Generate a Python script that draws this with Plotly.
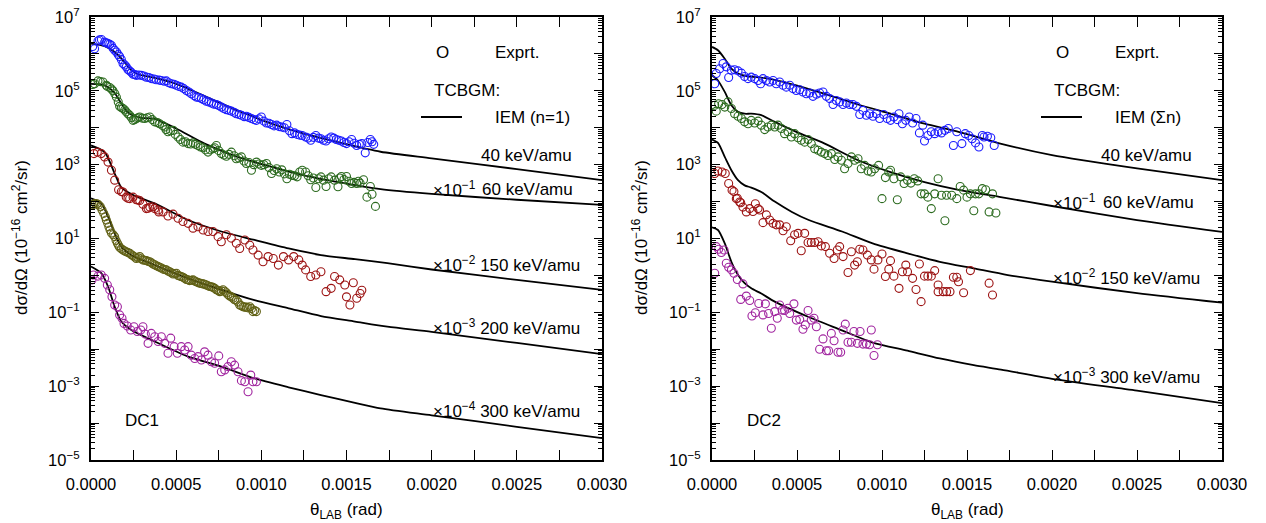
import numpy as np
import plotly.graph_objects as go

W, H = 1266, 523
FONT = "Liberation Sans, Arial, sans-serif"

# ---------------- DATA (theta in units of 1e-4 rad, values as log10) ----------------
# DC1 experimental
dc1_exp40_theta = [0.21,0.41,0.61,0.80,1.00,1.20,1.39,1.68,1.88,2.07,2.27,2.47,2.66,2.95,3.25,3.54,3.83,4.13,4.42,4.72,5.01,5.30,5.60,5.89,6.18,6.48,6.77,7.07,7.36,7.65,7.95,8.24,8.53,8.83,9.12,9.42,9.71,10.0,10.3,10.6,10.9,11.2,11.5,11.8,12.1,12.4,12.6,12.9,13.2,13.5,13.8,14.1,14.4,14.7,15.0,15.3,15.6,15.9,16.1,16.4,16.6,
                   0.1,0.5,0.9,1.1,1.3,1.5,1.6,1.78,1.98,2.17,2.37,2.57,2.8,3.1,3.4,3.7,4.0,4.3,4.57,4.87,5.15,5.45,5.75,6.05,6.33,6.62,6.92,7.2,7.5,7.8,8.1,8.4,8.7,9.0,9.27,9.57,9.86,10.15,10.45,10.75,11.05,11.35,11.65,11.95,12.25,12.75,13.05,13.35,13.65,13.95,14.25,14.55,14.85,15.15,15.45,15.75,16.25,16.5]
dc1_exp40_log = [6.14,6.35,6.39,6.32,6.28,6.23,6.10,5.93,5.74,5.65,5.54,5.45,5.42,5.42,5.37,5.33,5.30,5.28,5.27,5.19,5.15,5.10,5.01,4.92,4.83,4.79,4.72,4.67,4.63,4.56,4.49,4.45,4.38,4.34,4.31,4.25,4.20,4.29,4.13,4.09,4.07,4.02,4.09,3.84,3.82,3.79,3.75,3.66,3.79,3.70,3.64,3.75,3.68,3.64,3.57,3.68,3.52,3.57,3.32,3.68,3.55,
                 6.20,6.38,6.30,6.26,6.15,6.05,5.98,5.85,5.70,5.58,5.50,5.44,5.43,5.40,5.36,5.32,5.29,5.26,5.22,5.18,5.12,5.06,4.97,4.87,4.82,4.76,4.70,4.64,4.60,4.52,4.47,4.42,4.36,4.30,4.28,4.22,4.24,4.18,4.12,4.05,4.03,4.00,3.92,3.86,3.80,3.72,3.74,3.72,3.66,3.70,3.72,3.66,3.60,3.62,3.58,3.55,3.60,3.62]

dc1_exp60_theta = [0.21,0.41,0.70,0.90,1.10,1.29,1.49,1.68,1.88,2.07,2.27,2.47,2.66,2.86,3.15,3.45,3.74,4.03,4.33,4.52,4.82,5.11,5.40,5.70,5.99,6.28,6.58,6.87,7.16,7.36,7.65,7.95,8.24,8.53,8.83,9.12,9.42,9.71,10.0,10.3,10.6,10.9,11.2,11.5,11.8,12.1,12.4,12.6,12.9,13.2,13.5,13.8,14.1,14.5,14.7,15.0,15.3,15.6,15.8,16.0,16.2,16.4,16.5,16.7,
                   0.1,0.55,0.95,1.2,1.4,1.6,1.78,1.98,2.17,2.37,2.57,2.76,3.0,3.3,3.6,3.9,4.2,4.4,4.67,4.95,5.25,5.55,5.85,6.13,6.43,6.72,7.0,7.26,7.5,7.8,8.1,8.4,8.68,8.98,9.27,9.56,9.86,10.15,10.45,10.75,11.05,11.35,11.65,11.95,12.25,12.75,13.05,13.35,13.65,13.95,14.3,14.6,14.85,15.15,15.45,15.7]
dc1_exp60_log = [5.19,5.27,5.24,5.15,5.09,5.00,4.83,4.58,4.52,4.43,4.34,4.20,4.25,4.29,4.25,4.29,4.16,4.11,4.02,3.89,3.93,3.75,3.61,3.57,3.59,3.52,3.46,3.34,3.43,3.52,3.30,3.23,3.34,3.16,3.21,3.03,2.85,3.07,2.98,3.03,2.76,2.89,2.86,2.62,2.71,2.67,2.85,2.80,2.59,2.38,2.67,2.41,2.67,2.40,2.68,2.68,2.49,2.49,2.50,2.59,2.12,2.41,2.20,1.87,
                 5.17,5.25,5.12,5.05,4.92,4.70,4.55,4.48,4.38,4.28,4.22,4.27,4.26,4.27,4.22,4.14,4.06,3.95,3.92,3.82,3.68,3.62,3.56,3.55,3.48,3.40,3.40,3.46,3.38,3.26,3.28,3.24,3.18,3.10,3.06,3.00,3.02,3.00,2.92,2.84,2.80,2.75,2.74,2.70,2.80,2.70,2.64,2.62,2.58,2.62,2.58,2.64,2.60,2.55,2.52,2.55]

dc1_exp150_theta = [0.17,0.37,0.60,0.80,1.00,1.20,1.39,1.62,1.78,1.88,2.07,2.17,2.27,2.47,2.66,2.76,2.86,3.05,3.25,3.35,3.45,3.64,3.74,3.94,3.98,4.23,4.52,4.82,5.11,5.40,5.70,5.99,6.28,6.58,6.87,7.16,7.46,7.65,7.95,8.24,8.53,8.73,9.03,9.32,9.51,9.81,10.1,10.4,10.7,11.0,11.3,11.6,11.9,12.2,12.4,12.6,12.9,13.2,13.5,13.8,14.1,14.3,14.6,14.9,15.0,15.2,15.4,15.6,15.8,15.9]
dc1_exp150_log = [3.30,3.34,3.30,3.21,3.07,2.85,2.58,2.32,2.27,2.26,2.12,2.09,2.08,2.12,2.05,2.04,2.03,1.93,1.81,1.82,1.85,1.86,1.81,1.77,1.72,1.72,1.61,1.66,1.55,1.46,1.41,1.28,1.32,1.23,1.19,1.19,1.05,0.91,1.10,1.01,0.87,0.73,0.96,0.82,0.69,0.55,0.37,0.51,0.46,0.28,0.51,0.42,0.51,0.42,0.28,0.15,-0.03,0.01,0.10,-0.44,-0.35,-0.03,-0.12,-0.26,-0.58,-0.80,-0.20,-0.62,-0.49,-0.40]

dc1_exp200_theta = [0.06,0.25,0.45,0.65,0.84,0.98,1.12,1.39,1.55,1.68,1.88,2.07,2.27,2.47,2.66,2.86,3.05,3.25,3.45,3.64,3.84,4.03,4.23,4.42,4.62,4.82,5.01,5.21,5.40,5.60,5.79,5.99,6.18,6.38,6.58,6.77,6.97,7.16,7.36,7.56,7.75,7.95,8.14,8.34,8.53,8.73,8.93,9.12,9.32,9.51,9.71,
                    0.15,0.35,0.55,0.75,0.90,1.05,1.20,1.30,1.47,1.62,1.78,1.98,2.17,2.37,2.57,2.76,2.95,3.15,3.35,3.55,3.74,3.94,4.13,4.33,4.52,4.72,4.92,5.11,5.30,5.50,5.70,5.89,6.09,6.28,6.48,6.67,6.87,7.07,7.26,7.46,7.65,7.85,8.04,8.24,8.43,8.63,8.83,9.03,9.22,9.42,9.61]
dc1_exp200_log = [1.91,1.95,1.91,1.77,1.59,1.41,1.23,1.05,0.87,0.76,0.69,0.64,0.60,0.53,0.46,0.51,0.42,0.40,0.37,0.31,0.26,0.22,0.17,0.15,0.10,0.04,0.06,-0.02,-0.05,-0.11,-0.14,-0.12,-0.17,-0.21,-0.23,-0.26,-0.30,-0.32,-0.39,-0.44,-0.39,-0.47,-0.56,-0.62,-0.67,-0.80,-0.85,-0.86,-0.85,-0.98,-0.98,
                  1.93,1.94,1.86,1.68,1.50,1.32,1.15,1.10,0.95,0.81,0.72,0.66,0.62,0.56,0.50,0.48,0.45,0.41,0.38,0.34,0.29,0.24,0.20,0.16,0.12,0.07,0.05,0.00,-0.03,-0.08,-0.12,-0.13,-0.15,-0.19,-0.22,-0.24,-0.28,-0.31,-0.35,-0.41,-0.42,-0.43,-0.52,-0.58,-0.66,-0.72,-0.82,-0.86,-0.88,-0.90,-0.95]

dc1_exp300_theta = [0.06,0.14,0.41,0.60,0.80,0.96,1.10,1.23,1.39,1.55,1.68,1.82,1.94,2.13,2.33,2.52,2.72,2.92,3.05,3.19,3.35,3.54,3.74,3.94,4.13,4.33,4.52,4.68,4.88,5.07,5.30,5.50,5.70,5.89,6.09,6.28,6.48,6.67,6.87,7.07,7.26,7.50,7.65,7.85,8.04,8.24,8.43,8.63,8.83,9.03,9.22,9.38,9.51,9.71]
dc1_exp300_log = [-0.12,0.01,-0.02,0.01,-0.08,-0.26,-0.39,-0.58,-0.80,-0.85,-1.07,-1.16,-1.30,-1.37,-1.48,-1.39,-1.52,-1.48,-1.39,-1.59,-1.84,-1.57,-1.66,-1.79,-1.66,-1.84,-2.11,-1.70,-1.93,-2.11,-1.93,-2.02,-1.93,-2.16,-2.25,-2.20,-2.29,-2.07,-2.16,-2.34,-2.38,-2.18,-2.61,-2.56,-2.47,-2.34,-2.43,-2.61,-2.85,-2.88,-3.15,-2.70,-2.88,-2.88]

# DC1 theory (TCBGM IEM n=1)
dc1_th40_theta = [0,0.8,1.39,1.97,2.37,2.76,3.74,5.0,6.67,8.6,10.6,12.5,14.5,17.0,20,25,30]
dc1_th40_log = [6.28,6.21,6.05,5.78,5.56,5.45,5.35,5.19,4.86,4.47,4.11,3.84,3.61,3.35,3.17,2.88,2.58]
dc1_th60_theta = [0,0.8,1.39,1.97,2.37,2.95,3.74,5.0,6.67,8.6,10.6,12.5,14.5,17.0,20,25,30]
dc1_th60_log = [5.19,5.15,4.94,4.52,4.35,4.27,4.24,3.98,3.57,3.21,2.94,2.71,2.53,2.34,2.21,2.05,1.91]
dc1_th150_theta = [0,0.8,1.39,1.76,2.15,2.76,3.74,5.69,7.65,9.6,11.6,13.5,15.5,17.4,20,25,30]
dc1_th150_log = [3.52,3.34,2.76,2.40,2.26,2.12,1.95,1.50,1.19,0.96,0.73,0.55,0.44,0.33,0.16,-0.12,-0.39]
dc1_th200_theta = [0,0.6,1.0,1.39,1.78,2.37,3.74,5.7,7.65,9.6,11.6,13.5,15.5,17.4,20,25,30]
dc1_th200_log = [2.09,1.95,1.59,1.14,0.78,0.55,0.28,-0.08,-0.39,-0.67,-0.89,-1.10,-1.25,-1.39,-1.53,-1.83,-2.13]
dc1_th300_theta = [0,0.6,1.0,1.39,1.78,2.37,3.74,5.7,7.65,9.6,11.6,13.5,15.5,17.0,20,25,30]
dc1_th300_log = [0.24,0.06,-0.30,-0.85,-1.25,-1.48,-1.79,-2.20,-2.47,-2.79,-3.03,-3.24,-3.45,-3.60,-3.79,-4.10,-4.41]

# DC2 experimental
dc2_exp40_theta = [0.16,0.25,0.45,0.65,0.84,0.98,1.14,1.33,1.53,1.73,1.92,2.12,2.31,2.51,2.71,2.86,3.0,3.2,3.39,3.59,3.78,3.98,4.18,4.37,4.57,4.76,4.96,5.16,5.35,5.55,5.75,5.94,6.14,6.33,6.53,6.73,6.92,7.12,7.31,7.51,7.71,7.90,8.1,8.29,8.49,8.69,8.88,9.08,9.27,9.47,9.67,9.86,10.1,10.3,10.5,10.7,10.9,11.0,11.2,11.4,11.6,11.8,12.0,12.2,12.4,12.5,12.7,12.9,13.1,13.3,13.5,13.7,13.9,14.2,14.4,14.7,14.9,15.1,15.3,15.5,15.7,15.9,16.0,16.2,16.4,16.6]
dc2_exp40_log = [5.19,5.47,5.60,5.74,5.65,5.36,5.56,5.57,5.54,5.48,5.39,5.33,5.37,5.33,5.28,5.19,5.33,5.28,5.24,5.28,5.19,5.24,5.15,5.10,5.15,5.06,5.01,5.03,4.97,4.92,4.94,4.85,4.91,4.94,4.97,4.85,4.79,4.63,4.74,4.70,4.63,4.67,4.63,4.63,4.58,4.36,4.47,4.34,4.38,4.31,4.38,4.25,4.36,4.25,4.20,4.29,4.22,4.38,4.11,4.20,4.29,4.13,4.25,3.86,4.07,3.64,3.79,3.89,3.84,3.89,3.86,3.93,3.98,3.52,3.89,3.57,3.84,3.79,3.70,3.59,3.48,3.79,3.75,3.77,3.73,3.52]

dc2_exp60_theta = [0.16,0.25,0.39,0.59,0.75,0.94,1.14,1.33,1.53,1.73,1.92,2.12,2.31,2.51,2.71,2.9,3.1,3.29,3.49,3.69,3.88,4.08,4.27,4.47,4.67,4.86,5.06,5.25,5.45,5.65,5.84,6.04,6.24,6.43,6.63,6.82,7.02,7.22,7.41,7.61,7.8,8.0,8.2,8.39,8.59,8.78,8.98,9.18,9.37,9.57,9.8,10.0,10.2,10.4,10.5,10.7,10.9,11.1,11.3,11.5,11.7,11.9,12.1,12.3,12.5,12.7,12.9,13.1,13.3,13.5,13.7,13.8,14.1,14.4,14.6,14.8,15.0,15.2,15.4,15.5,15.7,15.9,16.1,16.3,16.5,16.7]
dc2_exp60_log = [4.61,4.45,4.65,4.63,4.56,4.70,4.52,4.38,4.31,4.25,4.16,4.11,4.20,4.13,4.18,4.07,3.95,4.02,4.07,4.02,4.07,3.98,3.84,3.89,3.75,3.84,3.73,3.66,3.61,3.68,3.57,3.43,3.39,3.34,3.30,3.25,3.30,3.14,3.21,3.12,2.89,3.03,3.21,3.12,3.16,2.89,2.98,2.83,2.80,2.89,2.98,2.08,2.65,2.80,2.85,2.62,2.05,2.67,2.49,2.58,2.50,2.62,2.56,2.21,2.21,2.12,1.81,2.21,2.62,2.17,1.48,2.17,2.17,2.08,2.41,2.31,2.12,2.21,1.75,2.21,2.21,2.35,2.32,1.72,2.21,1.69]

dc2_exp150_theta = [0.16,0.35,0.59,0.78,0.98,1.18,1.29,1.43,1.49,1.63,1.69,1.82,2.02,2.22,2.41,2.55,2.71,2.8,3.0,3.2,3.39,3.59,3.78,3.98,4.18,4.37,4.63,4.86,5.06,5.25,5.45,5.65,5.84,6.04,6.24,6.43,6.67,6.92,7.18,7.37,7.51,7.71,8.0,8.2,8.39,8.55,8.69,8.88,9.14,9.37,9.53,9.76,10.0,10.2,10.4,10.5,10.7,11.0,11.2,11.4,11.5,11.8,12.0,12.2,12.3,12.5,12.7,12.9,13.1,13.3,13.3,13.6,13.8,14.0,14.2,14.4,14.5,14.8,15.2,16.3,16.5]
dc2_exp150_log = [2.76,2.83,2.80,2.76,2.49,2.31,2.27,2.08,2.09,1.99,1.97,1.85,1.72,1.81,1.73,1.94,1.81,1.77,1.43,1.64,1.50,1.41,1.37,1.37,1.21,1.32,0.94,1.10,1.14,0.67,1.14,0.89,0.89,0.89,0.91,0.80,0.78,0.60,0.46,0.69,0.78,0.51,0.08,0.64,0.28,0.37,0.71,0.69,0.55,0.42,0.17,0.42,0.58,-0.03,0.17,0.40,-0.02,-0.35,0.10,0.28,0.10,-0.08,-0.38,0.31,-0.71,-0.02,-0.02,-0.02,0.13,-0.26,-0.44,-0.44,-0.44,-0.44,-0.05,-0.05,-0.17,-0.47,0.13,-0.21,-0.53]

dc2_exp300_theta = [0.16,0.25,0.39,0.55,0.71,0.84,0.98,1.14,1.29,1.49,1.82,1.69,2.02,2.22,2.35,2.55,2.75,3.0,3.14,3.33,3.49,3.69,3.84,3.98,4.12,4.27,4.47,4.57,4.82,4.96,5.16,5.35,5.49,5.65,5.84,6.0,6.14,6.33,6.53,6.73,6.86,7.02,7.18,7.41,7.57,7.71,7.84,8.0,8.2,8.35,8.55,8.71,8.88,9.08,9.27,9.37,9.53,9.73]
dc2_exp300_log = [0.06,0.78,0.71,0.62,0.69,0.33,0.22,0.15,0.06,-0.11,-0.23,-0.65,-0.56,-0.68,-1.10,-1.01,-0.76,-1.07,-0.77,-1.03,-1.43,-0.98,-1.16,-0.80,-0.94,-0.95,-0.89,-1.03,-0.77,-1.21,-1.19,-1.46,-1.34,-0.95,-1.21,-1.16,-1.39,-2.00,-1.72,-2.04,-2.04,-1.57,-1.77,-2.08,-2.08,-1.48,-1.32,-1.81,-1.81,-1.52,-1.84,-1.52,-1.86,-1.86,-1.88,-1.48,-2.17,-1.88]

# DC2 theory (TCBGM IEM sum over n)
dc2_th40_theta = [0,0.35,0.75,1.14,1.53,2.12,2.9,3.69,4.96,6.63,8.59,10.5,12.5,14.5,16.9,20,25,30]
dc2_th40_log = [6.19,6.10,5.87,5.60,5.47,5.39,5.36,5.30,5.15,4.92,4.63,4.38,4.11,3.89,3.58,3.26,2.90,2.58]
dc2_th60_theta = [0,0.35,0.75,1.14,1.53,1.92,2.31,2.9,3.69,4.96,6.63,8.59,10.5,12.5,14.5,16.9,20,25,30]
dc2_th60_log = [5.42,5.28,4.97,4.61,4.43,4.38,4.38,4.34,4.16,3.89,3.57,3.12,2.80,2.53,2.32,2.13,1.88,1.50,1.18]
dc2_th150_theta = [0,0.35,0.75,1.14,1.53,1.92,2.31,2.9,3.69,4.7,5.69,7.65,9.45,11.5,13.4,15.4,17.4,20,25,30]
dc2_th150_log = [3.68,3.59,3.21,2.85,2.58,2.44,2.38,2.26,2.00,1.72,1.50,1.19,0.87,0.60,0.37,0.19,0.01,-0.17,-0.48,-0.74]
dc2_th300_theta = [0,0.35,0.75,1.14,1.53,1.92,2.31,2.9,3.69,5.65,7.6,9.45,11.5,13.4,15.4,17.0,20,25,30]
dc2_th300_log = [1.30,1.23,0.87,0.37,0.01,-0.21,-0.35,-0.49,-0.71,-1.12,-1.48,-1.82,-2.04,-2.25,-2.43,-2.55,-2.80,-3.12,-3.46]

# tick labels
x_tickvals = [0.0, 0.0005, 0.0010, 0.0015, 0.0020, 0.0025, 0.0030]
x_ticktext = ["0.0000", "0.0005", "0.0010", "0.0015", "0.0020", "0.0025", "0.0030"]
y_label_exponents = [-5, -3, -1, 1, 3, 5, 7]
y_unlabeled_exponents = [-4, -2, 0, 2, 4, 6]

# ---------------- STYLE ----------------
C_BLUE = "#1c1cff"
C_GREEN = "#2b6a1e"
C_RED = "#9c1212"
C_OLIVE = "#606014"
C_PURPLE = "#a0249f"

fig = go.Figure()


def add_exp(theta, logv, color, xa, ya):
    fig.add_trace(go.Scatter(
        x=np.array(theta) * 1e-4, y=10 ** np.array(logv), mode="markers",
        marker=dict(symbol="circle-open", size=8, color=color, line=dict(width=1.1, color=color)),
        xaxis=xa, yaxis=ya, showlegend=False, hoverinfo="skip"))


def add_th(theta, logv, xa, ya):
    fig.add_trace(go.Scatter(
        x=np.array(theta) * 1e-4, y=10 ** np.array(logv), mode="lines",
        line=dict(color="black", width=1.8, shape="spline", smoothing=0.7),
        xaxis=xa, yaxis=ya, showlegend=False, hoverinfo="skip"))


for th, lg in [(dc1_th40_theta, dc1_th40_log), (dc1_th60_theta, dc1_th60_log),
               (dc1_th150_theta, dc1_th150_log), (dc1_th200_theta, dc1_th200_log),
               (dc1_th300_theta, dc1_th300_log)]:
    add_th(th, lg, "x", "y")
add_exp(dc1_exp40_theta, dc1_exp40_log, C_BLUE, "x", "y")
add_exp(dc1_exp60_theta, dc1_exp60_log, C_GREEN, "x", "y")
add_exp(dc1_exp150_theta, dc1_exp150_log, C_RED, "x", "y")
add_exp(dc1_exp200_theta, dc1_exp200_log, C_OLIVE, "x", "y")
add_exp(dc1_exp300_theta, dc1_exp300_log, C_PURPLE, "x", "y")

for th, lg in [(dc2_th40_theta, dc2_th40_log), (dc2_th60_theta, dc2_th60_log),
               (dc2_th150_theta, dc2_th150_log), (dc2_th300_theta, dc2_th300_log)]:
    add_th(th, lg, "x2", "y2")
add_exp(dc2_exp40_theta, dc2_exp40_log, C_BLUE, "x2", "y2")
add_exp(dc2_exp60_theta, dc2_exp60_log, C_GREEN, "x2", "y2")
add_exp(dc2_exp150_theta, dc2_exp150_log, C_RED, "x2", "y2")
add_exp(dc2_exp300_theta, dc2_exp300_log, C_PURPLE, "x2", "y2")

# invisible traces so the overlay axes (unlabeled decade ticks) are drawn
fig.add_trace(go.Scatter(x=[None], y=[None], xaxis="x", yaxis="y3", showlegend=False, hoverinfo="skip"))
fig.add_trace(go.Scatter(x=[None], y=[None], xaxis="x2", yaxis="y4", showlegend=False, hoverinfo="skip"))

y_tickvals = [10.0 ** e for e in y_label_exponents]
y_ticktext = ["10<sup>%s</sup>" % str(e).replace("-", "\u2212") for e in y_label_exponents]
y_unlabeled = [10.0 ** e for e in y_unlabeled_exponents]
y_minor = [m * 10.0 ** e for e in range(-5, 7) for m in range(2, 10)]

tickfont = dict(family=FONT, size=16.5, color="black")
Y_DOMAIN = [1 - 460 / H, 1 - 17 / H]


def xaxis_cfg(domain, anchor):
    return dict(domain=domain, anchor=anchor, range=[0, 0.003], tickmode="array",
                tickvals=x_tickvals, ticktext=x_ticktext, ticks="inside", ticklen=10,
                tickwidth=1.3, tickcolor="black", showline=True, linecolor="black",
                linewidth=2.2, mirror="allticks", showgrid=False, zeroline=False,
                tickfont=tickfont, ticklabelstandoff=8, automargin=False,
                minor=dict(tickmode="array", tickvals=[0.00025, 0.00075, 0.00125, 0.00175, 0.00225, 0.00275],
                           ticks="inside", ticklen=5, tickwidth=1.1, tickcolor="black", showgrid=False))


def yaxis_cfg(anchor):
    return dict(domain=Y_DOMAIN, anchor=anchor, type="log", range=[-5, 7],
                tickmode="array", tickvals=y_tickvals, ticktext=y_ticktext, ticks="inside",
                ticklen=8, tickwidth=1.3, tickcolor="black", showline=True, linecolor="black",
                linewidth=2.2, mirror="allticks", showgrid=False, zeroline=False,
                tickfont=tickfont, ticklabelstandoff=6, automargin=False,
                minor=dict(tickmode="array", tickvals=y_minor, ticks="inside", ticklen=4,
                           tickwidth=1, tickcolor="black", showgrid=False))


def yaxis_overlay_cfg(anchor, over):
    return dict(domain=Y_DOMAIN, anchor=anchor, overlaying=over, side="left", type="log", range=[-5, 7],
                tickmode="array", tickvals=y_unlabeled, showticklabels=False, ticks="inside",
                ticklen=8, tickwidth=1.3, tickcolor="black", showline=False, mirror="ticks",
                showgrid=False, zeroline=False, automargin=False)


fig.update_layout(
    width=W, height=H, margin=dict(l=0, r=0, t=0, b=0, autoexpand=False),
    paper_bgcolor="white", plot_bgcolor="white", showlegend=False,
    xaxis=xaxis_cfg([91 / W, 602 / W], "y"),
    yaxis=yaxis_cfg("x"),
    xaxis2=xaxis_cfg([712 / W, 1222 / W], "y2"),
    yaxis2=yaxis_cfg("x2"),
    yaxis3=yaxis_overlay_cfg("x", "y"),
    yaxis4=yaxis_overlay_cfg("x2", "y2"),
    font=dict(family=FONT, color="black"),
)

annotations = []
shapes = []


def ann(px, py, text, xanchor="left", size=17, angle=0):
    annotations.append(dict(x=px / W, y=1 - py / H, xref="paper", yref="paper", text=text,
                            showarrow=False, xanchor=xanchor, yanchor="middle", textangle=angle,
                            font=dict(family=FONT, size=size, color="black")))


def legend_block(x0, iem_text):
    ann(x0 + 10, 53, "O", xanchor="center")
    ann(x0 + 61, 53, "Exprt.")
    ann(x0, 90, "TCBGM:")
    shapes.append(dict(type="line", xref="paper", yref="paper",
                       x0=(x0 - 11) / W, x1=(x0 + 30) / W, y0=1 - 117 / H, y1=1 - 117 / H,
                       line=dict(color="black", width=1.8)))
    ann(x0 + 61, 117, iem_text)


# left panel
legend_block(432, "IEM (n=1)")
ann(574, 155, "40 keV/amu", xanchor="right")
ann(431, 189, "\u00d710<sup>\u22121</sup>")
ann(575, 189, "60 keV/amu", xanchor="right")
ann(431, 264, "\u00d710<sup>\u22122</sup> 150 keV/amu")
ann(431, 327, "\u00d710<sup>\u22123</sup> 200 keV/amu")
ann(431, 410, "\u00d710<sup>\u22124</sup> 300 keV/amu")
ann(123, 420, "DC1")
ann(20, 238, "d\u03c3/d\u03a9 (10<sup>\u221216</sup> cm<sup>2</sup>/sr)", xanchor="center", angle=-90)
ann(346, 511, "\u03b8<sub>LAB</sub> (rad)", xanchor="center")

# right panel
legend_block(1052, "IEM (\u03a3n)")
ann(1194, 155, "40 keV/amu", xanchor="right")
ann(1051, 202, "\u00d710<sup>\u22121</sup>")
ann(1196, 202, "60 keV/amu", xanchor="right")
ann(1051, 277, "\u00d710<sup>\u22122</sup> 150 keV/amu")
ann(1051, 376, "\u00d710<sup>\u22123</sup> 300 keV/amu")
ann(745, 420, "DC2")
ann(640, 238, "d\u03c3/d\u03a9 (10<sup>\u221216</sup> cm<sup>2</sup>/sr)", xanchor="center", angle=-90)
ann(967, 511, "\u03b8<sub>LAB</sub> (rad)", xanchor="center")

fig.update_layout(annotations=annotations, shapes=shapes)
fig.write_html("out.html")
